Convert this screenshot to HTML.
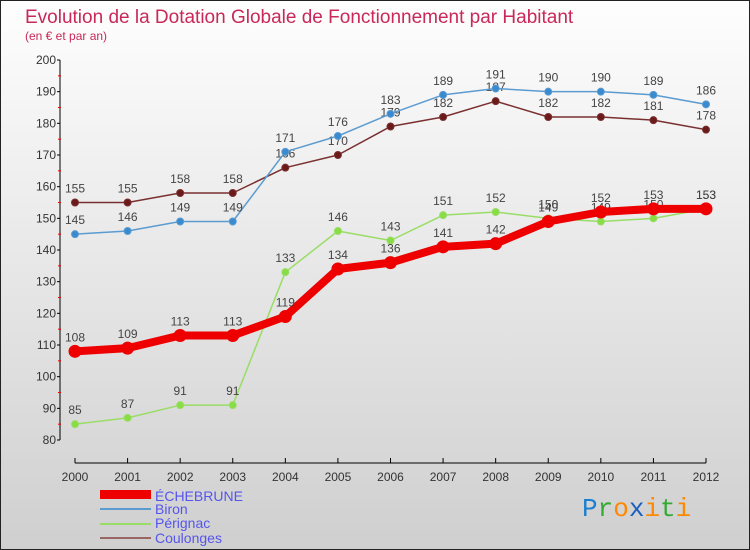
<!DOCTYPE html>
<html><head><meta charset="utf-8"><style>
body{margin:0}
#wrap{width:750px;height:550px;position:relative;overflow:hidden;background:linear-gradient(#fefefe,#cfcfcf);font-family:"Liberation Sans",sans-serif}
</style></head><body>
<div id="wrap">
<svg id="chart" width="750" height="550" style="position:absolute;left:0;top:0">
<rect x="0.5" y="0.5" width="749" height="549" fill="none" stroke="#222"/>
<text x="25" y="23" font-size="19" fill="#c8285a">Evolution de la Dotation Globale de Fonctionnement par Habitant</text>
<text x="25" y="40" font-size="12" fill="#c8285a">(en € et par an)</text>
<g id="axes"></g><g id="series"></g>
<g>
<rect x="100" y="490" width="51" height="9" fill="#e00"/>
<text x="155" y="501" font-size="14" fill="#5555ee">ÉCHEBRUNE</text>
<line x1="100" y1="509" x2="151" y2="509" stroke="#5b9bd0" stroke-width="2"/>
<text x="155" y="514" font-size="14" fill="#5555ee">Biron</text>
<line x1="100" y1="524" x2="151" y2="524" stroke="#99dd66" stroke-width="2"/>
<text x="155" y="528" font-size="14" fill="#5555ee">Pérignac</text>
<line x1="100" y1="538" x2="151" y2="538" stroke="#996666" stroke-width="2"/>
<text x="155" y="543" font-size="14" fill="#5555ee">Coulonges</text>
</g>
<text x="582" y="516" font-size="26" font-family="Liberation Mono,monospace"><tspan fill="#1a7fd0">P</tspan><tspan fill="#33aa33">r</tspan><tspan fill="#ff8800">o</tspan><tspan fill="#1a5fc0">x</tspan><tspan fill="#ff8800">i</tspan><tspan fill="#33aa33">t</tspan><tspan fill="#ff8800">i</tspan></text>
</svg></div>
<script>
const years=[2000,2001,2002,2003,2004,2005,2006,2007,2008,2009,2010,2011,2012];
const yTicks=[80,90,100,110,120,130,140,150,160,170,180,190,200];
const echebrune=[108,109,113,113,119,134,136,141,142,149,152,153,153];
const biron=[145,146,149,149,171,176,183,189,191,190,190,189,186];
const perignac=[85,87,91,91,133,146,143,151,152,150,149,150,153];
const coulonges=[155,155,158,158,166,170,179,182,187,182,182,181,178];
const NS="http://www.w3.org/2000/svg";
const x0=75,x1=706,yMin=80,yMax=200,py0=440,py1=60;
const xs=i=>x0+(x1-x0)*i/(years.length-1);
const ys=v=>py0-(v-yMin)*(py0-py1)/(yMax-yMin);
function mk(t,a,p){const e=document.createElementNS(NS,t);for(const k in a)e.setAttribute(k,a[k]);p.appendChild(e);return e;}
const ax=document.getElementById('axes');
const yl=mk('line',{x1:60,y1:py1,x2:60,y2:py0,stroke:'#000'},ax);


yTicks.forEach(v=>{
 mk('line',{x1:57,y1:ys(v),x2:60,y2:ys(v),stroke:'#000'},ax);
 if(v<yMax) mk('line',{x1:58,y1:ys(v+5),x2:61,y2:ys(v+5),stroke:'#e00'},ax);
 const t=mk('text',{x:56,y:ys(v)+4,'font-size':12,fill:'#333','text-anchor':'end'},ax);t.textContent=v;
 
 
});
const xl=mk('line',{x1:x0,y1:463,x2:x1,y2:463,stroke:'#000'},ax);


years.forEach((y,i)=>{
 mk('line',{x1:xs(i),y1:458,x2:xs(i),y2:463,stroke:'#000'},ax);
 const t=mk('text',{x:xs(i),y:481,'font-size':12,fill:'#333','text-anchor':'middle'},ax);t.textContent=y;
 
 
});
const sg=document.getElementById('series');
function draw(name,data,color,w,r,dot){
 const g=mk('g',{},sg);
 
 
 mk('polyline',{points:data.map((v,i)=>xs(i)+','+ys(v)).join(' '),fill:'none',stroke:color,'stroke-width':w,'stroke-linejoin':'round'},g);
 data.forEach((v,i)=>{
  const c=mk('circle',{cx:xs(i),cy:ys(v),r:r,fill:dot,stroke:color,'stroke-width':1},g);
  
  
  const t=mk('text',{x:xs(i),y:ys(v)-10,'font-size':12,fill:'#444','text-anchor':'middle'},g);t.textContent=v;
  
  
 });
}
draw('coulonges',coulonges,'#7a3030',1.5,3.5,'#6a1a1a');
draw('biron',biron,'#5b9bd0',1.5,3.5,'#3a8ad0');
draw('perignac',perignac,'#99dd66',1.5,3.5,'#88dd44');
draw('echebrune',echebrune,'#ee0000',8,6,'#ee0000');
</script>
</body></html>
